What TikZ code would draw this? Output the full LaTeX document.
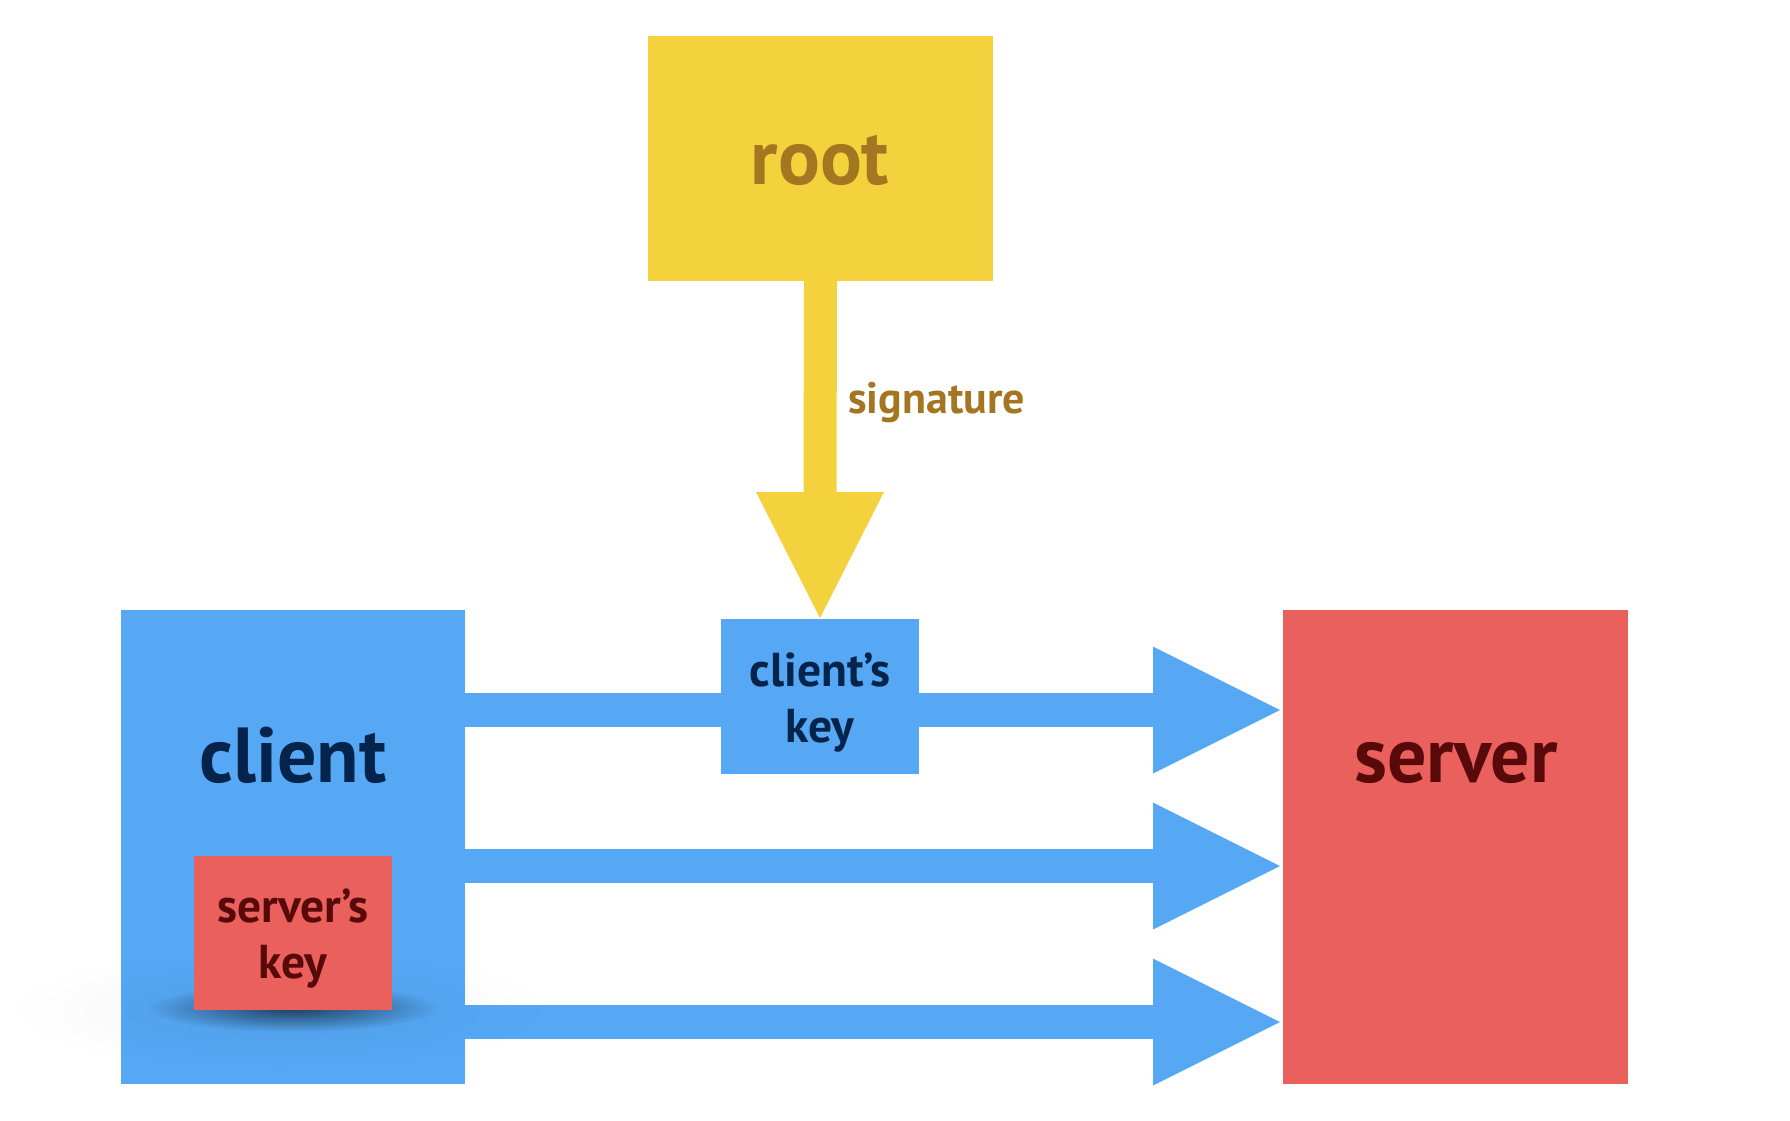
\documentclass[tikz,border=0pt]{standalone}
\usepackage{fontspec}
\setmainfont{PT Sans}
\usetikzlibrary{calc,fadings}
\definecolor{cblue}{HTML}{56A8F5}
\definecolor{cyellow}{HTML}{F3D23D}
\definecolor{cred}{HTML}{EA605D}
\definecolor{tnavy}{HTML}{04244B}
\definecolor{tdred}{HTML}{580909}
\definecolor{tbrown}{HTML}{A57621}
\tikzfading[name=softspot, inner color=transparent!0, outer color=transparent!100]
\begin{document}
\begin{tikzpicture}[x=1pt,y=-1pt,
  boxnode/.style={inner sep=0pt,outer sep=0pt,draw=none},
  bigtxt/.style={font=\fontsize{78}{78}\selectfont\bfseries, inner sep=0pt, anchor=base},
  keytxt/.style={font=\fontsize{47.5}{56}\selectfont\bfseries, inner sep=0pt, align=center},
  bshaft/.style={draw=cblue, line width=34pt},
  yshaft/.style={draw=cyellow, line width=33pt}]
\useasboundingbox (0,0) rectangle (1790,1120);
\fill[white] (0,0) rectangle (1790,1120);

% boxes
\node[boxnode, fill=cyellow, minimum width=345pt, minimum height=245pt] (root) at (820.5,158.5) {};
\node[boxnode, fill=cblue, minimum width=344pt, minimum height=474pt] (client) at (293,847) {};
\node[boxnode, fill=cred, minimum width=345pt, minimum height=474pt] (server) at (1455.5,847) {};

\coordinate (r1) at (0,710);
\coordinate (r2) at (0,866);
\coordinate (r3) at (0,1022);

% connectors client -> server
\foreach \r in {r1,r2,r3}{
  \draw[bshaft] (client.east |- \r) -- ($(server.west |- \r)+(-129,0)$);
  \fill[cblue] ($(server.west |- \r)+(-130,-63.5)$) -- ($(server.west |- \r)+(-3,0)$)
     -- ($(server.west |- \r)+(-130,63.5)$) -- cycle;
}

\node[boxnode, fill=cblue, minimum width=198pt, minimum height=155pt] (ckey) at (820,696.5) {};

% connector root -> client's key
\draw[yshaft] (root.south) -- ($(ckey.north)+(0,-126)$);
\fill[cyellow] ($(ckey.north)+(-64,-127)$) -- ($(ckey.north)+(64,-127)$)
   -- ($(ckey.north)+(0,-1)$) -- cycle;

% shadow of server's key
\fill[black, opacity=0.05, path fading=softspot] (280,1010) ellipse [x radius=270, y radius=60];
\fill[black, opacity=0.6, path fading=softspot] (293,1008) ellipse [x radius=145, y radius=24];
\node[boxnode, fill=cred, minimum width=198pt, minimum height=154pt] (skey) at (293,933) {};

% labels
\node[bigtxt, text=tbrown] (rootlbl) at (820,184) {root};
\node[bigtxt, text=tnavy] (clientlbl) at (293,782) {client};
\node[bigtxt, text=tdred] (serverlbl) at (1456,782) {server};
\node[font=\fontsize{44}{44}\selectfont\bfseries, text=tbrown, inner sep=0pt, anchor=base west] (sig) at (848,413) {signature};
\node[keytxt, text=tnavy] (ckeylbl) at ($(ckey.center)+(0,6)$) {client’s\\key};
\node[keytxt, text=tdred] (skeylbl) at ($(skey.center)+(0,6)$) {server’s\\key};
\end{tikzpicture}
\end{document}
